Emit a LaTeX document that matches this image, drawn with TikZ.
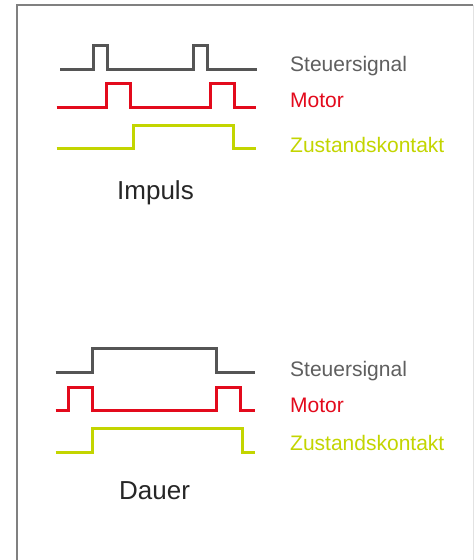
\documentclass[tikz,border=0pt]{standalone}
\usepackage{fontspec}
\setmainfont{Liberation Sans}
\definecolor{sgray}{HTML}{555555}
\definecolor{tgray}{HTML}{5F5F5F}
\definecolor{sred}{HTML}{E30A1C}
\definecolor{sgreen}{HTML}{C3D500}
\definecolor{frame}{HTML}{808080}
\definecolor{frameR}{HTML}{E2E2E2}
\tikzset{
  sig/.style={line width=3pt, line join=miter, line cap=butt},
  lbl/.style={anchor=base west, inner sep=0pt, font=\fontsize{21}{25}\selectfont},
  ttl/.style={anchor=base west, inner sep=0pt, font=\fontsize{26}{31}\selectfont, text=black!85},
}
\begin{document}
\begin{tikzpicture}[x=1pt,y=-1pt]
\useasboundingbox (0,0) rectangle (474,560);
\fill[white] (0,0) rectangle (474,560);
% frame
\draw[frame, line width=1.6pt] (17,560) -- (17,5) -- (473,5);
\draw[frameR, line width=1.2pt] (473.4,5) -- (473.4,560);
% Impuls
\draw[sig, sgray] (60,69.3) -- (93.3,69.3) -- (93.3,45) -- (107.3,45) -- (107.3,69.3) -- (193.3,69.3) -- (193.3,45) -- (207.3,45) -- (207.3,69.3) -- (256.7,69.3);
\draw[sig, sred] (56.7,107.7) -- (106.7,107.7) -- (106.7,83.3) -- (130,83.3) -- (130,107.7) -- (210.7,107.7) -- (210.7,83.3) -- (234.3,83.3) -- (234.3,107.7) -- (256,107.7);
\draw[sig, sgreen] (56.7,148.7) -- (133.3,148.7) -- (133.3,125.7) -- (233.3,125.7) -- (233.3,148.7) -- (256,148.7);
\node[lbl, text=tgray] (s1) at (290,71) {Steuersignal};
\node[lbl, text=sred] (m1) at (290,107.7) {Motor};
\node[lbl, text=sgreen] (z1) at (290,152) {Zustandskontakt};
\node[ttl] (imp) at (117,199.3) {Impuls};
% Dauer
\draw[sig, sgray] (55.7,372.7) -- (92.3,372.7) -- (92.3,348.3) -- (216.7,348.3) -- (216.7,372.7) -- (255,372.7);
\draw[sig, sred] (55.7,410.3) -- (68.3,410.3) -- (68.3,387.3) -- (92.3,387.3) -- (92.3,410.3) -- (216.7,410.3) -- (216.7,387.3) -- (240.7,387.3) -- (240.7,410.3) -- (255,410.3);
\draw[sig, sgreen] (55.7,452) -- (92.3,452) -- (92.3,428.3) -- (242.3,428.3) -- (242.3,452) -- (255,452);
\node[lbl, text=tgray] (s2) at (290,376) {Steuersignal};
\node[lbl, text=sred] (m2) at (290,412.7) {Motor};
\node[lbl, text=sgreen] (z2) at (290,450) {Zustandskontakt};
\node[ttl] (dau) at (119,499.3) {Dauer};
\end{tikzpicture}
\end{document}
